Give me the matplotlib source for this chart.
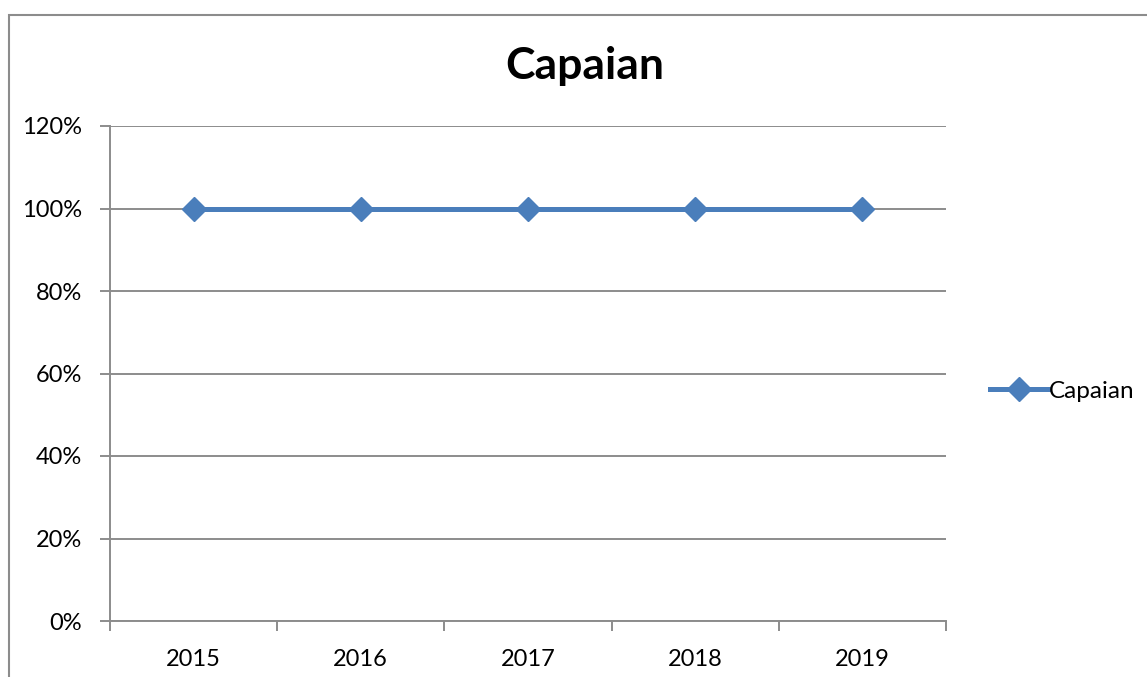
import matplotlib.pyplot as plt
from matplotlib.patches import Rectangle

# data
years = ["2015", "2016", "2017", "2018", "2019"]
capaian = [1.0, 1.0, 1.0, 1.0, 1.0]
yticks = [0, 0.2, 0.4, 0.6, 0.8, 1.0, 1.2]

plt.rcParams['font.family'] = ['Lato', 'DejaVu Sans']

W, H = 1147, 677
fig = plt.figure(figsize=(W / 100, H / 100), dpi=100)

# outer chart border (cropped on the right and bottom)
fig.patches.append(Rectangle((8.5 / W, -0.1), 1.2, 1.1 - 15.5 / H,
                             transform=fig.transFigure, fill=False,
                             edgecolor='#8c8c8c', linewidth=1.5))

ax = fig.add_axes([110 / W, (H - 621) / H, (946 - 110) / W, (621 - 126) / H])

x = range(len(years))
ax.plot(x, capaian, color='#4a7ebb', linewidth=3.6, marker='D', markersize=12,
        label='Capaian', zorder=3)

ax.set_xlim(-0.5, len(years) - 0.5)
ax.set_ylim(0, 1.2)
ax.set_yticks(yticks)
ax.set_yticklabels([f"{int(round(v * 100))}%" for v in yticks])
ax.set_xticks(list(x))
ax.set_xticklabels(years)
ax.set_xticks([i - 0.5 for i in range(len(years) + 1)], minor=True)

ax.grid(axis='y', color='#8c8c8c', linewidth=1.4)
ax.set_axisbelow(True)
for side in ['top', 'right']:
    ax.spines[side].set_visible(False)
for side in ['left', 'bottom']:
    ax.spines[side].set_color('#8c8c8c')
    ax.spines[side].set_linewidth(1.4)

ax.tick_params(axis='x', which='major', length=0, pad=20, labelsize=17)
ax.tick_params(axis='x', which='minor', length=7, width=1.4, color='#8c8c8c', direction='out')
ax.tick_params(axis='y', length=7, width=1.4, color='#8c8c8c', pad=13, labelsize=17)

fig.text(585 / W, 1 - 66 / H, 'Capaian', ha='center', va='center',
         fontsize=32, fontweight='bold')

fig.legend(loc='center left', bbox_to_anchor=(978 / W, 1 - 391 / H), frameon=False,
           fontsize=17.5, handlelength=2.4, handletextpad=0.0, borderpad=0)

fig.savefig('out.png', dpi=100)
